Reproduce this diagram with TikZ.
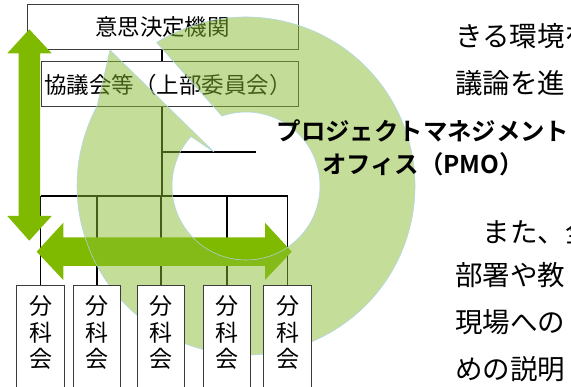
\documentclass[tikz,border=0pt]{standalone}
\usepackage{fontspec}
\newfontfamily\jp{Noto Sans CJK JP}[BoldFont={Noto Sans CJK JP Bold}]
\usetikzlibrary{calc}
\definecolor{solidgreen}{RGB}{128,186,0}
\definecolor{ringgreen}{RGB}{137,189,51}
\definecolor{ringedge}{RGB}{175,212,232}
\definecolor{boxline}{RGB}{60,60,60}
\begin{document}
\begin{tikzpicture}[x=1pt,y=-1pt,
  box/.style={draw=boxline, line width=1pt, fill=white, inner sep=0pt},
  conn/.style={draw=black, line width=1.1pt},
  bigarrow/.style={fill=solidgreen, draw=none},
  ring/.style={fill=ringgreen, fill opacity=0.5, draw=ringedge, line width=0.6pt, draw opacity=0.9},
  boxtext/.style={font=\jp\fontsize{22.5}{22.5}\selectfont, inner sep=0pt},
  subtext/.style={font=\jp\fontsize{23}{26.5}\selectfont, align=center, inner sep=0pt},
  sidetext/.style={font=\jp\fontsize{27.5}{27.5}\selectfont, anchor=west, inner sep=0pt},
  pmotext/.style={font=\jp\bfseries\fontsize{24.4}{33}\selectfont, align=center, inner sep=0pt}
]
\useasboundingbox (0,0) rectangle (571,387);
\clip (0,0) rectangle (571,387);

% upper organisation boxes
\node[box, minimum width=271, minimum height=45] (n1) at (162.5,27.5) {};
\node[boxtext] (n1t) at (162.5,27.5) {意思決定機関};
\node[box, minimum width=257, minimum height=45] (n2) at (169.5,84.5) {};
\node[boxtext] (n2t) at (168,84.5) {協議会等（上部委員会）};

\coordinate (trunk) at (162,0);
\coordinate (bus) at (0,196);
\coordinate (pmoend) at (256,152);
\foreach \i/\x in {1/40.5,2/97,3/161,4/227,5/287.5}{
  \coordinate (top\i) at (\x,285);
  \coordinate (mid\i) at (\x,333);
}

% connectors
\draw[conn] (trunk |- n1.south) -- (trunk |- n2.north);
\draw[conn] (trunk |- n2.south) -- (trunk |- bus);
\draw[conn] (trunk |- pmoend) -- (pmoend);
\draw[conn] (top1 |- bus) -- (top5 |- bus);
\foreach \i in {1,...,5}{
  \draw[conn] (top\i |- bus) -- (top\i);
}

% solid green double arrows
\path[bigarrow] (29.3,29.3) -- (51.7,53.3) -- (40,53.3) -- (40,216) -- (51.7,216)
  -- (29.3,240.7) -- (7.3,216) -- (18.5,216) -- (18.5,53.3) -- (7.3,53.3) -- cycle;
\path[bigarrow] (36.7,251.7) -- (63.3,222.7) -- (63.3,237.3) -- (265,237.3) -- (265,222.7)
  -- (291.7,251.7) -- (265,280) -- (265,266) -- (63.3,266) -- (63.3,280) -- cycle;

% circular arrow (semi-transparent)
\coordinate (C) at (246,186);
\coordinate (hf) at (110,50);
\coordinate (hi) at (214,152);
\path[ring] ($(C)+(238.1:169)$) arc[start angle=238.1, end angle=568.2, radius=169]
  -- (hf) -- (hi) -- ($(C)+(222:74)$) arc[start angle=582, end angle=251, radius=74] -- cycle;

% sub-committee boxes (above the circular arrow)
\foreach \i in {1,...,5}{
  \node[box, minimum width=47.5, minimum height=130, anchor=north] (s\i) at (top\i) {};
  \node[subtext] (l\i) at (mid\i) {分\\科\\会};
}

% PMO label
\node[pmotext] (pmo) at (423,147.5) {プロジェクトマネジメント\\オフィス（PMO）};

% body text at right (cut by the frame)
\node[sidetext] (r1) at (455,36) {きる環境を};
\node[sidetext] (r2) at (455,83) {議論を進};
\node[sidetext] (r3) at (455,232) {　また、全};
\node[sidetext] (r4) at (455,275) {部署や教};
\node[sidetext] (r5) at (455,322) {現場への};
\node[sidetext] (r6) at (455,369) {めの説明};
\end{tikzpicture}
\end{document}
